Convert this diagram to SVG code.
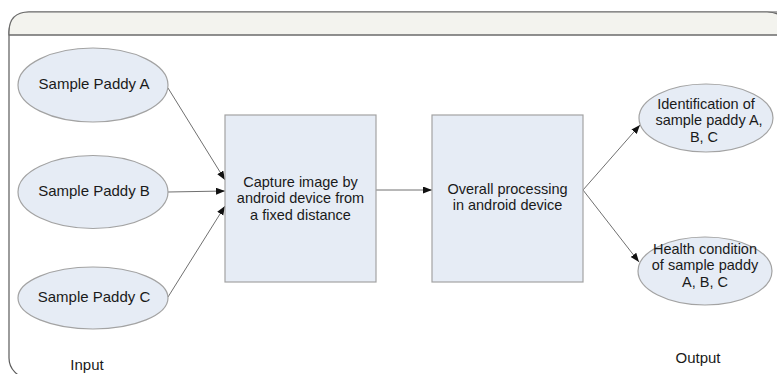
<svg xmlns="http://www.w3.org/2000/svg" width="777" height="374" viewBox="0 0 777 374">
  <style>
    .frame { fill: #ffffff; stroke: #5a5a5a; stroke-width: 1.2; }
    .band { fill: #f3f3ee; stroke: #6a6a6a; stroke-width: 1.2; }
    .node { fill: #e6ecf5; stroke: #a3a3a3; stroke-width: 1.2; }
    .edge { fill: none; stroke: #707070; stroke-width: 1; marker-end: url(#arrow); }
    text { font-family: "Liberation Sans", Arial, sans-serif; font-size: 14.5px; fill: #1a1a1a; text-anchor: middle; }
    .lbl { font-size: 15px; }
  </style>
  <defs>
    <marker id="arrow" markerUnits="userSpaceOnUse" markerWidth="10" markerHeight="8" refX="9" refY="3.5" orient="auto">
      <path d="M0,0 L9,3.5 L0,7 z" fill="#111111"/>
    </marker>
  </defs>

  <g id="frame">
    <rect class="frame" x="9" y="12" width="790" height="366" rx="20" ry="20"/>
    <path class="band" d="M9,35 L9,32 Q9,12 29,12 L767,12 Q787,12 787,32 L787,35 Z"/>
    <line x1="9" y1="35" x2="787" y2="35" stroke="#6a6a6a" stroke-width="1.2"/>
  </g>

  <g id="connectors">
    <line class="edge" x1="168" y1="88" x2="225" y2="180"/>
    <line class="edge" x1="168" y1="192" x2="225" y2="191"/>
    <line class="edge" x1="168" y1="297" x2="225" y2="206"/>
    <line class="edge" x1="376" y1="190" x2="432" y2="190"/>
    <line class="edge" x1="583" y1="190" x2="640" y2="125"/>
    <line class="edge" x1="583" y1="190" x2="639" y2="262"/>
  </g>

  <g id="sampleA">
    <ellipse class="node" cx="93" cy="85" rx="75" ry="37"/>
    <text class="lbl" x="94" y="89">Sample Paddy A</text>
  </g>
  <g id="sampleB">
    <ellipse class="node" cx="93" cy="192" rx="75" ry="36.5"/>
    <text class="lbl" x="94" y="196">Sample Paddy B</text>
  </g>
  <g id="sampleC">
    <ellipse class="node" cx="93" cy="298" rx="75" ry="31"/>
    <text class="lbl" x="94" y="302">Sample Paddy C</text>
  </g>

  <g id="capture">
    <rect class="node" x="225" y="115" width="151" height="167"/>
    <text x="300.5" y="186.5">Capture image by</text>
    <text x="300.5" y="203">android device from</text>
    <text x="300.5" y="219.5">a fixed distance</text>
  </g>
  <g id="processing">
    <rect class="node" x="432" y="115" width="151" height="167"/>
    <text x="507.5" y="193.5">Overall processing</text>
    <text x="507.5" y="210">in android device</text>
  </g>

  <g id="identification">
    <ellipse class="node" cx="706" cy="118" rx="67" ry="34"/>
    <text x="706" y="108.5">Identification of</text>
    <text x="709" y="125">sample paddy A,</text>
    <text x="704" y="141.5">B, C</text>
  </g>
  <g id="health">
    <ellipse class="node" cx="705" cy="271" rx="67" ry="34"/>
    <text x="705" y="253.5">Health condition</text>
    <text x="705" y="270">of sample paddy</text>
    <text x="705" y="286.5">A, B, C</text>
  </g>

  <g id="labels">
    <text class="lbl" x="87" y="370">Input</text>
    <text class="lbl" x="698" y="363">Output</text>
  </g>
</svg>
